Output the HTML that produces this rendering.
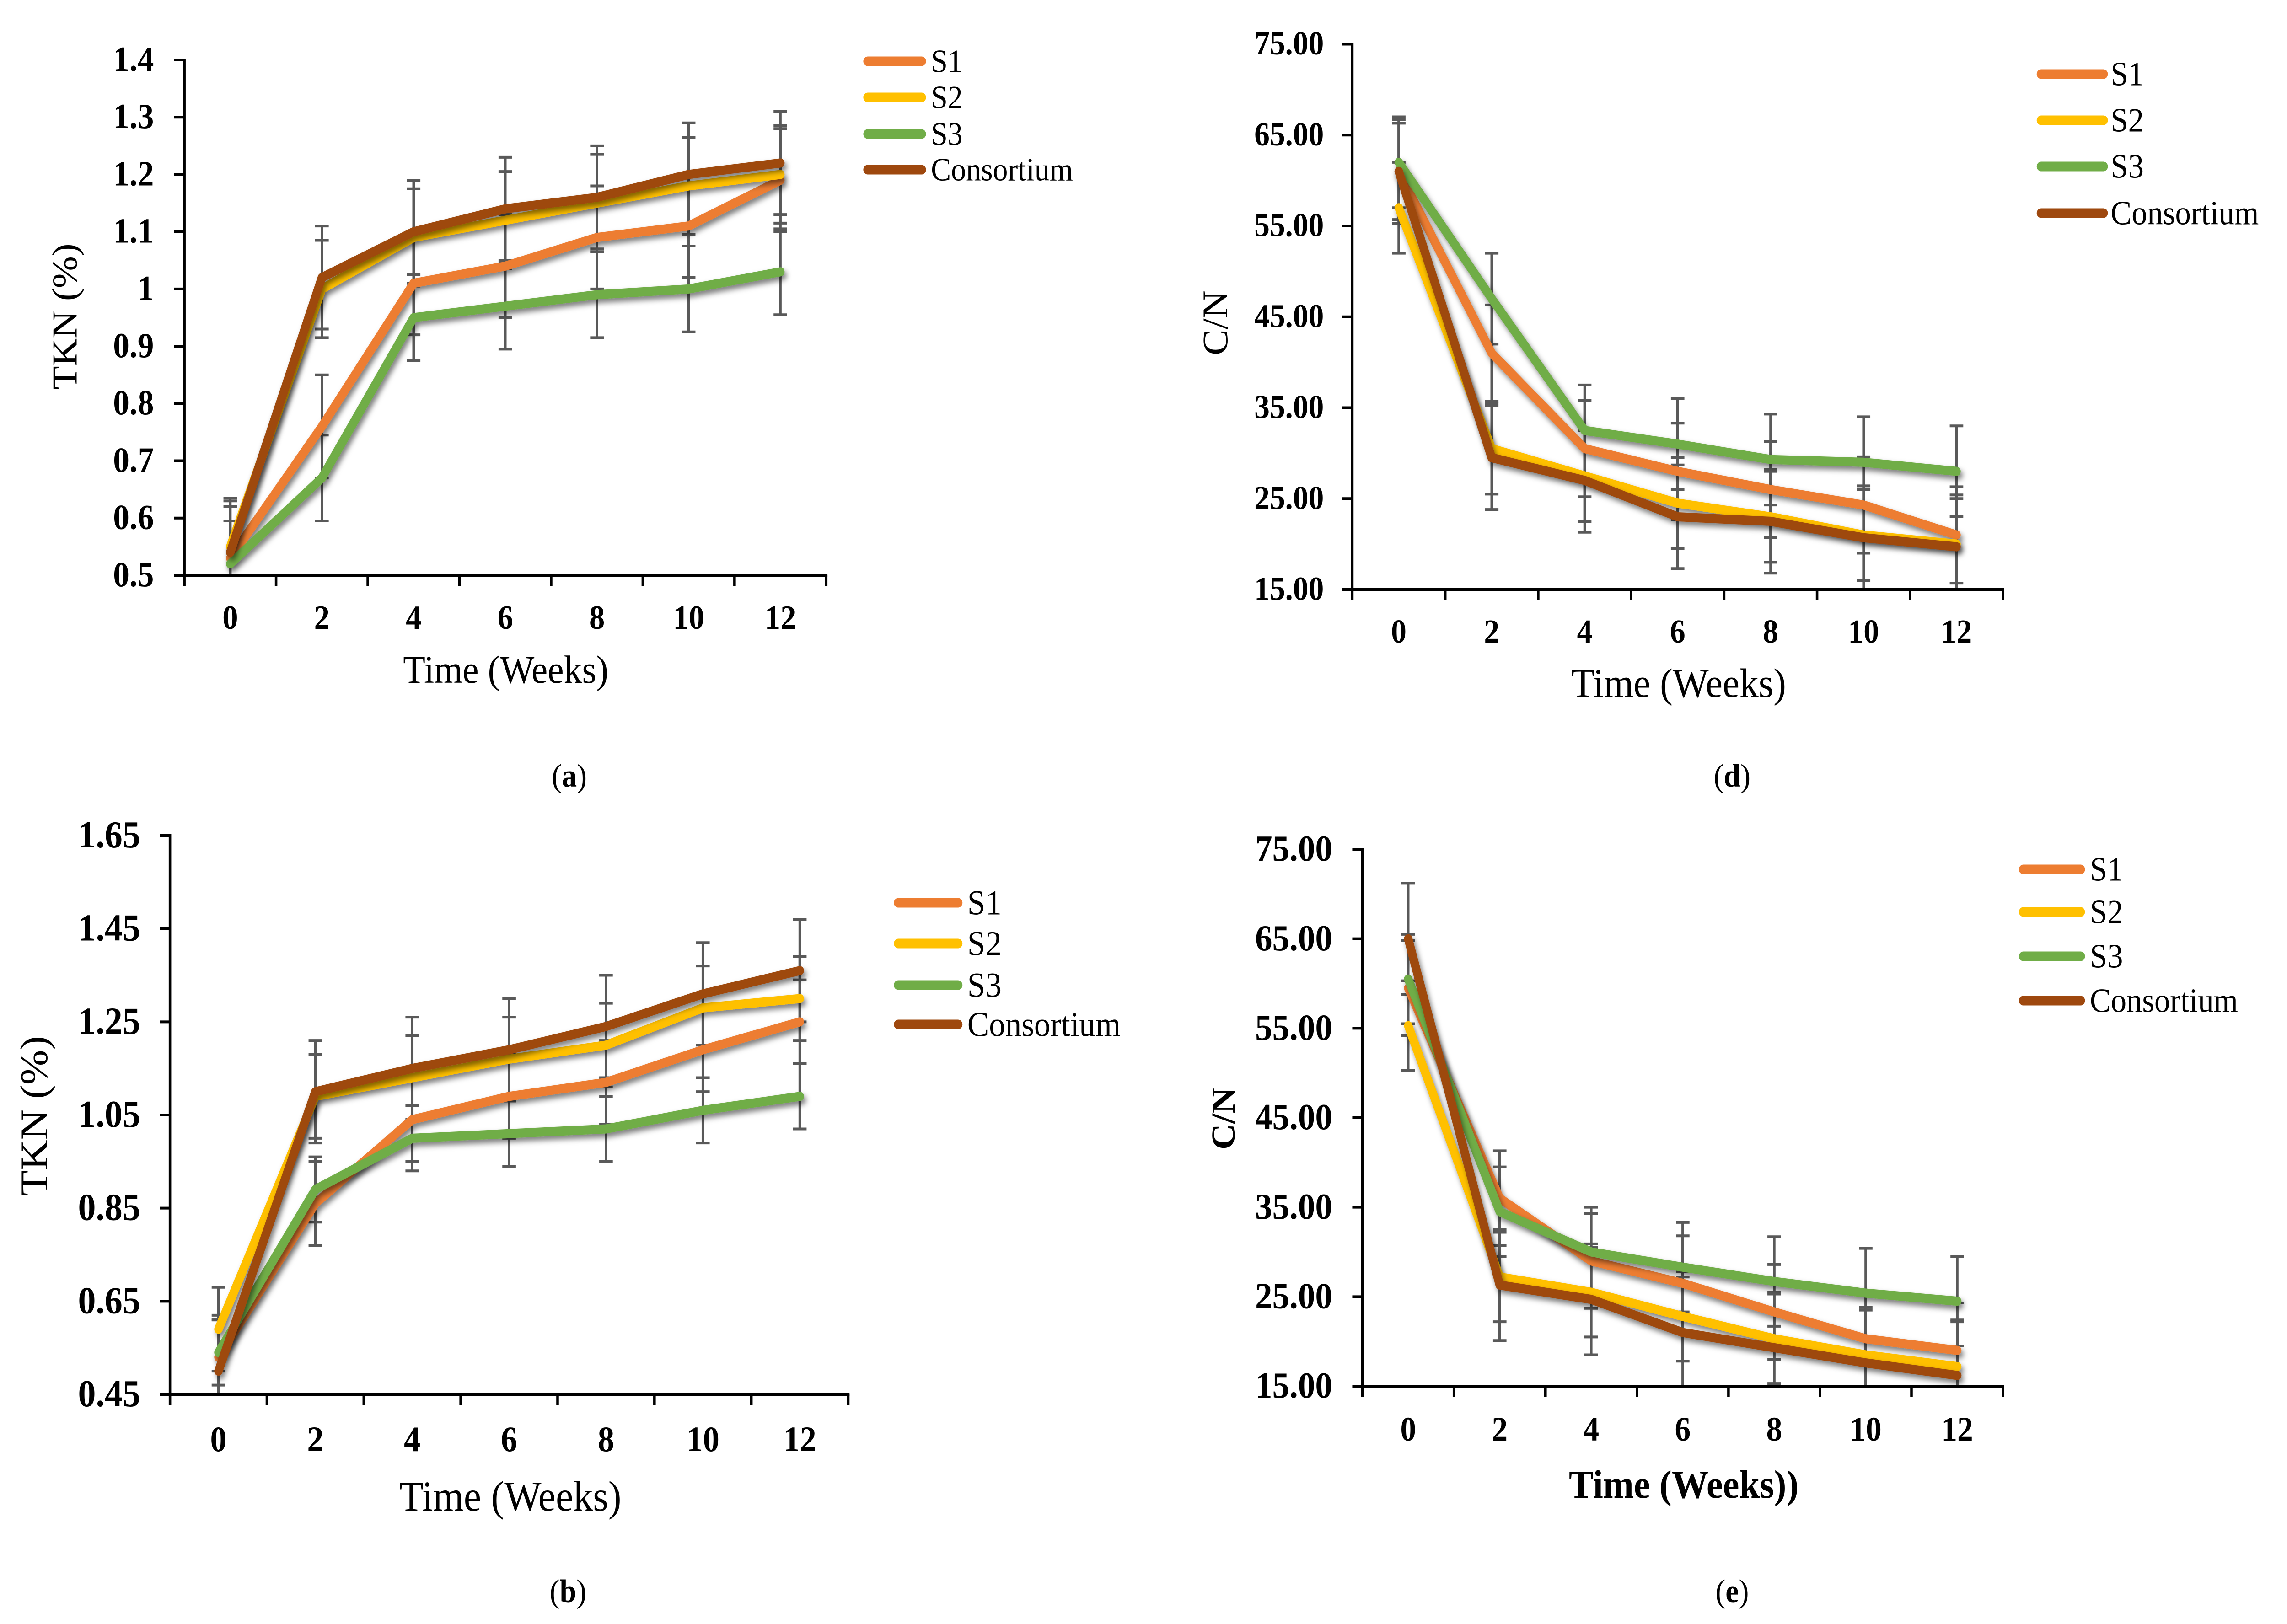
<!DOCTYPE html>
<html lang="en">
<head>
<meta charset="utf-8">
<title>TKN and C/N over time</title>
<style>
html,body{margin:0;padding:0;background:#fff}
svg{display:block;width:100vw;height:100vh}
text{font-family:"Liberation Serif",serif;fill:#000}
</style>
</head>
<body>
<svg id="figure" xmlns="http://www.w3.org/2000/svg" viewBox="0 0 5395 3551" preserveAspectRatio="none">
<defs>
<filter id="line-shadow" x="-10%" y="-15%" width="125%" height="135%">
<feDropShadow dx="5" dy="8" stdDeviation="6" flood-color="#000" flood-opacity="0.5"/>
</filter>
</defs>
</svg>
<script>
const weeks = ['0','2','4','6','8','10','12'];
const seriesNames = ['S1','S2','S3','Consortium'];
const seriesColors = ['#ED7D31','#FFC000','#70AD47','#9E480E'];

const aYTicks = ['0.5','0.6','0.7','0.8','0.9','1','1.1','1.2','1.3','1.4'];
const aS1 = [0.53,0.76,1.01,1.04,1.09,1.11,1.19];
const aS2 = [0.55,1.00,1.09,1.12,1.15,1.18,1.20];
const aS3 = [0.52,0.67,0.95,0.97,0.99,1.00,1.03];
const aCons = [0.54,1.02,1.10,1.14,1.16,1.20,1.22];
const aErrors = [0.09,0.085,0.075,0.09];

const dYTicks = ['15.00','25.00','35.00','45.00','55.00','65.00','75.00'];
const dS1 = [61.0,41.0,30.5,28.0,26.0,24.3,21.0];
const dS2 = [57.0,30.5,27.5,24.5,23.0,21.0,20.0];
const dS3 = [62.0,47.0,32.5,31.0,29.3,29.0,28.0];
const dCons = [61.0,29.5,27.0,23.0,22.5,20.7,19.7];
const dErrors = [5.3,5.0,5.0,5.7];

const bYTicks = ['0.45','0.65','0.85','1.05','1.25','1.45','1.65'];
const bS1 = [0.53,0.86,1.04,1.09,1.12,1.19,1.25];
const bS2 = [0.59,1.09,1.13,1.17,1.20,1.28,1.30];
const bS3 = [0.54,0.89,1.00,1.01,1.02,1.06,1.09];
const bCons = [0.50,1.10,1.15,1.19,1.24,1.31,1.36];
const bErrors = [0.09,0.09,0.07,0.11];

const eYTicks = ['15.00','25.00','35.00','45.00','55.00','65.00','75.00'];
const eS1 = [59.5,36.0,29.0,26.5,23.3,20.3,19.0];
const eS2 = [55.3,27.2,25.5,22.8,20.3,18.5,17.2];
const eS3 = [60.5,34.5,30.0,28.3,26.7,25.4,24.5];
const eCons = [65.0,26.3,24.7,21.0,19.3,17.6,16.2];
const eErrors = [5.3,5.0,5.0,6.2];

const panels = [
 {id:'a',caption:'a',xTitle:'Time (Weeks)',yTitle:'TKN (%)',series:[aS1,aS2,aS3,aCons],errors:aErrors,yTicks:aYTicks,
  x0:435,x1:1949,yTop:131,yBot:1258,tickFs:77,xTickFs:74,xTickY:1375,yTickX:363,
  xTitleFs:86,xTitleX:1193,xTitleY:1493,xTitleBold:false,yTitleFs:84,yTitleX:153,yTitleY:692,yTitleBold:false,
  legX0:2037,legX1:2184,legTextX:2196,legFs:71,legY:[134,213,293,371],capX:1343,capY:1720},
 {id:'d',caption:'d',xTitle:'Time (Weeks)',yTitle:'C/N',series:[dS1,dS2,dS3,dCons],errors:dErrors,yTicks:dYTicks,
  x0:3190,x1:4725,yTop:96.5,yBot:1289,tickFs:73,xTickFs:73,xTickY:1405,yTickX:3123,
  xTitleFs:90,xTitleX:3960,xTitleY:1524,xTitleBold:false,yTitleFs:85,yTitleX:2867,yTitleY:706,yTitleBold:false,
  legX0:4805,legX1:4972,legTextX:4979,legFs:74,legY:[162,263,364,466],capX:4086,capY:1720},
 {id:'b',caption:'b',xTitle:'Time (Weeks)',yTitle:'TKN (%)',series:[bS1,bS2,bS3,bCons],errors:bErrors,yTicks:bYTicks,
  x0:401,x1:2001,yTop:1827,yBot:3049,tickFs:84,xTickFs:78,xTickY:3173,yTickX:331,
  xTitleFs:93,xTitleX:1204,xTitleY:3303,xTitleBold:false,yTitleFs:92,yTitleX:81,yTitleY:2440,yTitleBold:false,
  legX0:2109,legX1:2270,legTextX:2282,legFs:76.6,legY:[1974,2063,2154,2240],capX:1340,capY:3503},
 {id:'e',caption:'e',xTitle:'Time (Weeks))',yTitle:'C/N',series:[eS1,eS2,eS3,eCons],errors:eErrors,yTicks:eYTicks,
  x0:3214,x1:4725,yTop:1857,yBot:3031,tickFs:81,xTickFs:75,xTickY:3150,yTickX:3143,
  xTitleFs:87,xTitleX:3972,xTitleY:3275,xTitleBold:true,yTitleFs:79,yTitleX:2886,yTitleY:2446,yTitleBold:true,
  legX0:4763,legX1:4918,legTextX:4930,legFs:74,legY:[1901,1994,2091,2188],capX:4086,capY:3503}
];

const NS = 'http://www.w3.org/2000/svg';
const root = document.getElementById('figure');

function make(tag, attrs, parent, content) {
  const el = document.createElementNS(NS, tag);
  for (const k in attrs) el.setAttribute(k, attrs[k]);
  if (content !== undefined) el.textContent = content;
  parent.appendChild(el);
  return el;
}

panels.forEach(function (p) {
  const chart = make('g', {}, root);
  
  

  const yVals = p.yTicks.map(Number);
  const yMin = Math.min.apply(null, yVals);
  const yMax = Math.max.apply(null, yVals);
  const band = (p.x1 - p.x0) / weeks.length;
  const xScale = function (i) { return p.x0 + band * (i + 0.5); };
  const yScale = function (v) { return p.yBot - (v - yMin) / (yMax - yMin) * (p.yBot - p.yTop); };

  // error bars (behind the lines)
  p.series.forEach(function (vals, s) {
    const group = make('g', {stroke:'#595959','stroke-width':6,fill:'none'}, chart);
    
    
    vals.forEach(function (v, i) {
      const hi = v + p.errors[s];
      const lo = v - p.errors[s];
      const x = xScale(i);
      const bar = make('line', {x1:x,x2:x,y1:yScale(Math.min(hi,yMax)),y2:yScale(Math.max(lo,yMin))}, group);
      
      
      [hi, lo].forEach(function (c) {
        if (c >= yMin && c <= yMax) {
          const cap = make('line', {x1:x-16,x2:x+16,y1:yScale(c),y2:yScale(c)}, group);
          
          
        }
      });
    });
  });

  // series lines
  p.series.forEach(function (vals, s) {
    const pts = vals.map(function (v, i) { return xScale(i).toFixed(1) + ',' + yScale(v).toFixed(1); }).join(' ');
    const line = make('polyline', {points:pts,fill:'none',stroke:seriesColors[s],'stroke-width':20,'stroke-linecap':'round','stroke-linejoin':'round',filter:'url(#line-shadow)'}, chart);
    
    
  });

  // y axis
  const yAxis = make('g', {}, chart);
  
  
  const yLine = make('line', {x1:p.x0,x2:p.x0,y1:p.yTop-3,y2:p.yBot+3,stroke:'#000','stroke-width':6}, yAxis);
  
  
  p.yTicks.forEach(function (label) {
    const y = yScale(Number(label));
    const tick = make('line', {x1:p.x0-24,x2:p.x0,y1:y,y2:y,stroke:'#000','stroke-width':6}, yAxis);
    
    
    const t = make('text', {x:p.yTickX,y:y+p.tickFs*0.31,'text-anchor':'end','font-weight':'bold','font-size':p.tickFs}, yAxis, label);
    
    
  });

  // x axis
  const xAxis = make('g', {}, chart);
  
  
  const xLine = make('line', {x1:p.x0-3,x2:p.x1+3,y1:p.yBot,y2:p.yBot,stroke:'#000','stroke-width':6}, xAxis);
  
  
  for (let i = 0; i <= weeks.length; i++) {
    const x = p.x0 + band * i;
    const tick = make('line', {x1:x,x2:x,y1:p.yBot,y2:p.yBot+24,stroke:'#000','stroke-width':6}, xAxis);
    
    
  }
  weeks.forEach(function (label, i) {
    const t = make('text', {x:xScale(i),y:p.xTickY,'text-anchor':'middle','font-weight':'bold','font-size':p.xTickFs}, xAxis, label);
    
    
  });

  // axis titles
  const xt = make('text', {x:p.xTitleX,y:p.xTitleY,'text-anchor':'middle','font-size':p.xTitleFs,'font-weight':p.xTitleBold?'bold':'normal'}, chart, p.xTitle);
  
  
  const yt = make('text', {transform:'translate(' + (p.yTitleX + p.yTitleFs*0.33) + ',' + p.yTitleY + ') rotate(-90)','text-anchor':'middle','font-size':p.yTitleFs,'font-weight':p.yTitleBold?'bold':'normal'}, chart, p.yTitle);
  
  

  // legend
  const legend = make('g', {}, chart);
  
  
  seriesNames.forEach(function (name, s) {
    const entry = make('g', {}, legend);
    
    
    make('line', {x1:p.legX0+10,x2:p.legX1-10,y1:p.legY[s],y2:p.legY[s],stroke:seriesColors[s],'stroke-width':21,'stroke-linecap':'round'}, entry);
    make('text', {x:p.legTextX,y:p.legY[s]+p.legFs*0.33,'font-size':p.legFs}, entry, name);
  });

  // caption
  const cap = make('text', {x:p.capX,y:p.capY,'text-anchor':'middle','font-size':71}, chart);
  
  
  make('tspan', {}, cap, '(');
  make('tspan', {'font-weight':'bold'}, cap, p.caption);
  make('tspan', {}, cap, ')');
});
</script>
</body>
</html>
